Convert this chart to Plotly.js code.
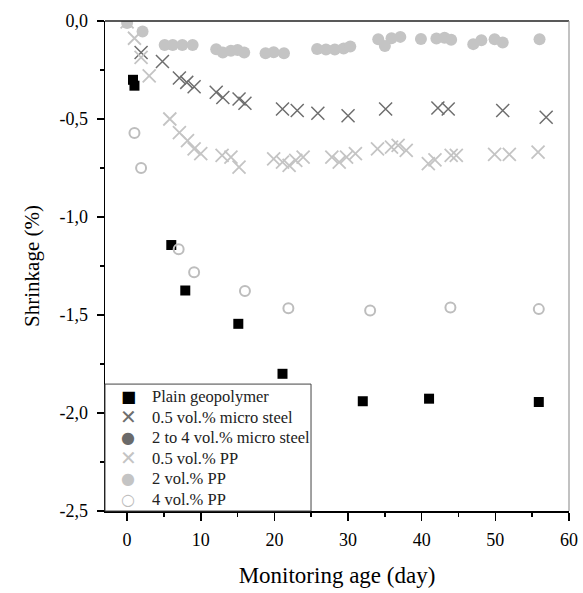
<!DOCTYPE html>
<html>
<head>
<meta charset="utf-8">
<script src="https://cdn.plot.ly/plotly-3.0.1.min.js"></script>
<style>html,body{margin:0;padding:0;background:#fff;}#chart{width:583px;height:593px;}</style>
</head>
<body>
<div id="chart"></div>
<script>
// Data (day, shrinkage %)
const plainX = [0.8, 1.0, 6.0, 7.9, 15.1, 21.1, 32.0, 41.0, 55.9];
const plainY = [-0.30, -0.33, -1.143, -1.375, -1.545, -1.80, -1.94, -1.927, -1.944];

const steel05X = [1.9, 4.8, 7.1, 8.1, 9.1, 12.1, 13.0, 15.2, 16.0, 21.1, 23.1, 25.9, 30.0, 35.1, 42.2, 43.6, 51.0, 56.9];
const steel05Y = [-0.161, -0.207, -0.291, -0.313, -0.335, -0.364, -0.39, -0.398, -0.42, -0.449, -0.457, -0.471, -0.483, -0.449, -0.444, -0.449, -0.457, -0.491];

// no visible points for this series in the reference (legend entry only)
const steel24X = [];
const steel24Y = [];

const pp05X = [0.0, 1.0, 1.9, 3.0, 5.8, 7.1, 8.2, 9.1, 10.0, 12.9, 14.1, 15.2, 19.9, 21.1, 22.0, 22.9, 23.9, 27.8, 28.8, 29.8, 31.0, 34.0, 35.9, 36.8, 37.9, 40.9, 41.8, 44.0, 44.7, 49.9, 51.9, 55.8];
const pp05Y = [-0.005, -0.088, -0.186, -0.28, -0.50, -0.57, -0.61, -0.652, -0.677, -0.686, -0.694, -0.745, -0.703, -0.72, -0.737, -0.711, -0.694, -0.694, -0.72, -0.694, -0.677, -0.652, -0.644, -0.635, -0.66, -0.728, -0.708, -0.686, -0.686, -0.681, -0.681, -0.669];

const pp2X = [0, 2.1, 5.1, 6.2, 7.5, 8.9, 12.1, 13.0, 14.1, 15.0, 15.9, 18.8, 19.9, 21.3, 25.8, 27.0, 28.2, 29.4, 30.3, 34.1, 35.0, 35.9, 37.1, 39.9, 42.0, 43.1, 44.0, 47.0, 48.1, 49.9, 51.0, 56.0];
const pp2Y = [-0.01, -0.054, -0.122, -0.122, -0.122, -0.122, -0.144, -0.161, -0.152, -0.148, -0.161, -0.164, -0.16, -0.164, -0.143, -0.145, -0.145, -0.14, -0.13, -0.093, -0.127, -0.088, -0.081, -0.092, -0.089, -0.085, -0.096, -0.118, -0.098, -0.093, -0.11, -0.093];

const pp4X = [1.0, 1.9, 7.0, 9.1, 16.0, 21.9, 33.0, 43.9, 55.9];
const pp4Y = [-0.571, -0.75, -1.164, -1.282, -1.377, -1.465, -1.477, -1.462, -1.47];

const names = ["Plain geopolymer", "0.5 vol.% micro steel", "2 to 4 vol.% micro steel", "0.5 vol.% PP", "2 vol.% PP", "4 vol.% PP"];
const xTickVals = [0, 10, 20, 30, 40, 50, 60];
const yTickVals = [0, -0.5, -1.0, -1.5, -2.0, -2.5];
const yTickText = ["0,0", "-0,5", "-1,0", "-1,5", "-2,0", "-2,5"];

const serif = "Liberation Serif";
const colors = ["#000000", "#6e6e6e", "#6a6a6a", "#c4c4c4", "#c4c4c4", "#bdbdbd"];
const legendGlyphs = ["\u25A0", "\u2715", "\u25CF", "\u2715", "\u25CF", "\u25CB"];

const traces = [
  {x: plainX, y: plainY, name: names[0], type: "scatter", mode: "markers",
   marker: {symbol: "square", size: 10, color: colors[0]}},
  {x: steel05X, y: steel05Y, name: names[1], type: "scatter", mode: "markers",
   marker: {symbol: "x-thin-open", size: 13, color: colors[1], line: {width: 1.5, color: colors[1]}}},
  {x: steel24X, y: steel24Y, name: names[2], type: "scatter", mode: "markers",
   marker: {symbol: "circle", size: 11, color: colors[2]}},
  {x: pp05X, y: pp05Y, name: names[3], type: "scatter", mode: "markers",
   marker: {symbol: "x-thin-open", size: 13, color: colors[3], line: {width: 1.8, color: colors[3]}}},
  {x: pp2X, y: pp2Y, name: names[4], type: "scatter", mode: "markers",
   marker: {symbol: "circle", size: 12, color: colors[4]}},
  {x: pp4X, y: pp4Y, name: names[5], type: "scatter", mode: "markers",
   marker: {symbol: "circle-open", size: 10, color: colors[5], line: {width: 2, color: colors[5]}}}
];

// Legend box laid out in paper coordinates (plot area 464 x 490 px)
const legTop = 0.259, legRight = 0.444, rowStep = 20.5 / 490, firstRow = (511 - 396.7) / 490;
const annotations = [];
names.forEach(function (n, i) {
  const yy = firstRow - i * rowStep;
  annotations.push({xref: "paper", yref: "paper", x: 0.0496, y: yy, xanchor: "center", yanchor: "middle",
    text: legendGlyphs[i], showarrow: false,
    font: {family: "DejaVu Sans", size: (i === 1 || i === 3) ? 20 : 16, color: colors[i]}});
  annotations.push({xref: "paper", yref: "paper", x: 0.097, y: yy, xanchor: "left", yanchor: "middle",
    text: n, showarrow: false, font: {family: serif, size: 16.5, color: "#222222"}});
});

const layout = {
  width: 583, height: 593,
  margin: {l: 105, r: 14, t: 21, b: 82},
  paper_bgcolor: "#ffffff", plot_bgcolor: "#ffffff",
  font: {family: serif, color: "#000000", size: 17},
  showlegend: false,
  xaxis: {
    range: [-3, 60], tickvals: xTickVals, ticks: "outside", ticklen: 8, tickwidth: 1.5,
    tickcolor: "#000", showline: true, linecolor: "#000", linewidth: 1.5, mirror: false,
    showgrid: false, zeroline: false, tickfont: {family: serif, size: 18},
    ticklabelstandoff: 4,
    minor: {dtick: 5, tick0: 0, ticks: "outside", ticklen: 4, tickwidth: 1.5, tickcolor: "#000", showgrid: false},
    title: {text: "Monitoring age (day)", font: {family: serif, size: 23}, standoff: 18}
  },
  yaxis: {
    range: [-2.5, 0], tickvals: yTickVals, ticktext: yTickText, ticks: "outside", ticklen: 7, tickwidth: 1.5,
    tickcolor: "#000", showline: true, linecolor: "#000", linewidth: 1.5, mirror: false,
    showgrid: false, zeroline: false, tickfont: {family: serif, size: 18},
    ticklabelstandoff: 5,
    minor: {dtick: 0.25, tick0: 0, ticks: "outside", ticklen: 4, tickwidth: 1.5, tickcolor: "#000", showgrid: false},
    title: {text: "Shrinkage (%)", font: {family: serif, size: 21}, standoff: 14}
  },
  annotations: annotations,
  shapes: [
    {type: "line", xref: "paper", yref: "paper", x0: 0, x1: 1, y0: 1, y1: 1, line: {color: "#222", width: 1.5}},
    {type: "line", xref: "paper", yref: "paper", x0: 1, x1: 1, y0: 0, y1: 1, line: {color: "#999", width: 1.2}},
    {type: "rect", xref: "paper", yref: "paper", x0: 0, x1: legRight, y0: 0, y1: legTop,
     fillcolor: "#ffffff", line: {color: "#444", width: 1}, layer: "above"}
  ]
};

Plotly.newPlot("chart", traces, layout, {displayModeBar: false, staticPlot: true});
</script>
</body>
</html>
